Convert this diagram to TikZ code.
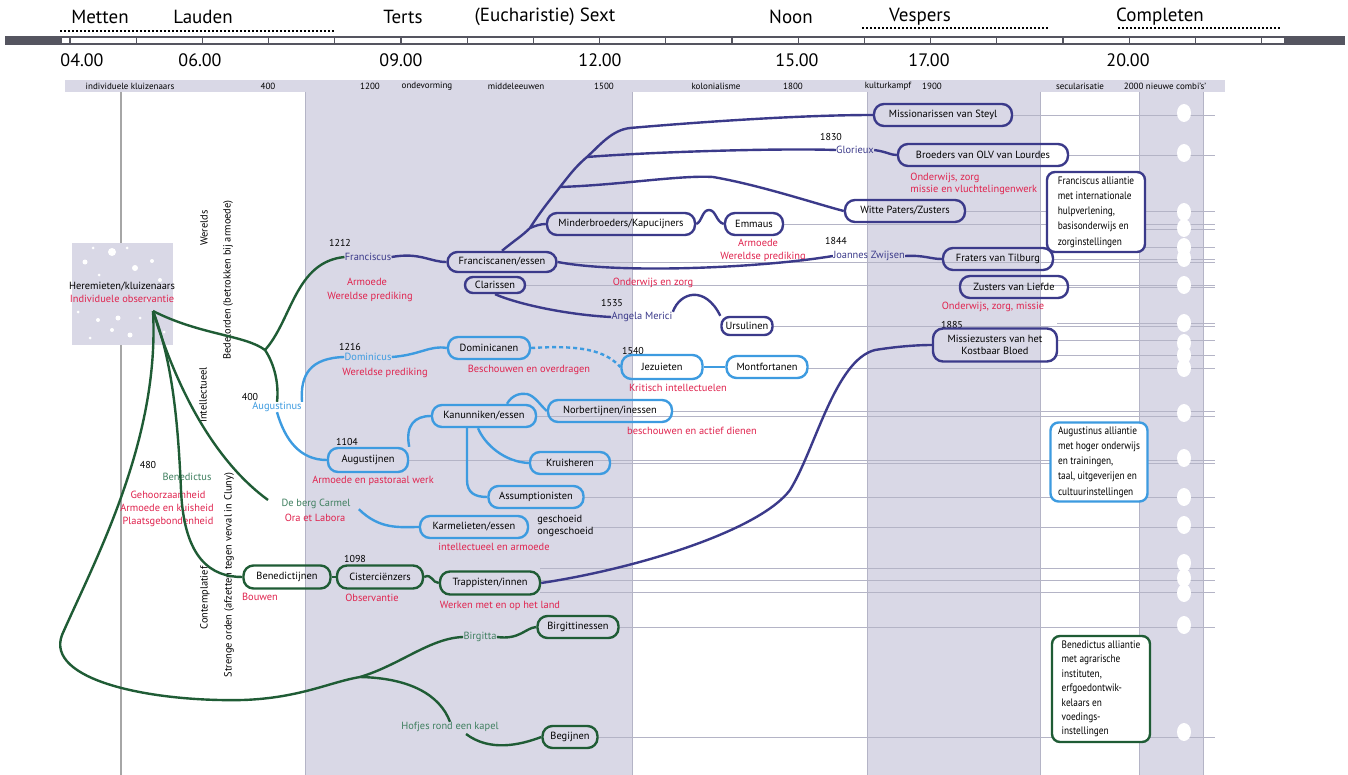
\documentclass[tikz,border=0pt]{standalone}
\usepackage{fontspec}
\setmainfont{PT Sans}
\newfontfamily\narrowf{PT Sans}[FakeStretch=0.86]
\definecolor{purp}{HTML}{3B3A8A}
\definecolor{lblue}{HTML}{3D9BE0}
\definecolor{dgreen}{HTML}{1F5C35}
\definecolor{tgreen}{HTML}{3F7F5F}
\definecolor{redt}{HTML}{E0234E}
\definecolor{lav}{HTML}{D9D8E6}
\definecolor{rowl}{HTML}{B4B4C6}
\definecolor{bar}{HTML}{555560}
\begin{document}
\begin{tikzpicture}[x=0.5pt,y=-0.5pt,
  every node/.style={inner sep=0pt, font=\fontsize{5.2}{6.2}\selectfont},
  box/.style={draw, line width=1.2pt, rounded corners=5pt, minimum height=11pt, align=center},
  pbox/.style={box, draw=purp},
  bbox/.style={box, draw=lblue},
  gbox/.style={box, draw=dgreen},
  allbox/.style={draw, line width=1.2pt, rounded corners=4pt, fill=white, align=left, inner sep=2pt, font=\narrowf\fontsize{5.4}{7.6}\selectfont},
  plink/.style={draw=purp, line width=1.2pt},
  blink/.style={draw=lblue, line width=1.2pt},
  glink/.style={draw=dgreen, line width=1.2pt},
  rlab/.style={text=redt},
  yr/.style={font=\fontsize{5}{6}\selectfont},
  hdr/.style={font=\fontsize{9.5}{11}\selectfont},
  tim/.style={font=\fontsize{9}{11}\selectfont},
  era/.style={font=\fontsize{4.5}{5}\selectfont},
  vlab/.style={rotate=90, font=\fontsize{5.2}{6}\selectfont},
  rowline/.style={draw=rowl, line width=0.3pt},
  hole/.style={fill=white, draw=none}
]
\useasboundingbox (0,0) rectangle (1348,775);
\fill[white] (0,0) rectangle (1348,775);
% ---------- header ----------
\node[hdr] (h1) at (100,17) {Metten};
\node[hdr] (h2) at (203,17) {Lauden};
\node[hdr] (h3) at (403,17) {Terts};
\node[hdr] (h4) at (545,17) {(Eucharistie) Sext};
\node[hdr] (h5) at (791,17) {Noon};
\node[hdr] (h6) at (920,17) {Vespers};
\node[hdr] (h7) at (1160,17) {Completen};
\draw[densely dotted, line width=1pt] (60,31) -- (335,31);
\draw[densely dotted, line width=1pt] (862,28) -- (1050,28);
\draw[densely dotted, line width=1pt] (1118,28) -- (1280,28);
\fill[bar] (5,36) rectangle (62,45);
\fill[bar] (1284,36) rectangle (1345,45);
\draw[bar, line width=1pt] (62,37) -- (1284,37);
\draw[bar, line width=0.6pt] (62,44) -- (1284,44);
\foreach \k in {0,...,18} \draw[bar, line width=0.6pt] ({70+66.2*\k},37) -- ({70+66.2*\k},44);
\node[tim] (t1) at (82,60) {04.00};
\node[tim] (t2) at (200,60) {06.00};
\node[tim] (t3) at (401,60) {09.00};
\node[tim] (t4) at (600,60) {12.00};
\node[tim] (t5) at (797,60) {15.00};
\node[tim] (t6) at (929,60) {17.00};
\node[tim] (t7) at (1128,60) {20.00};
% era band
\fill[lav] (65,80) rectangle (1225,92);
\node[era] (e1) at (130,86) {individuele kluizenaars};
\node[era] (e2) at (268,86) {400};
\node[era] (e3) at (370,86) {1200};
\node[era] (e4) at (427,86) {ondevorming};
\node[era] (e5) at (516,86) {middeleeuwen};
\node[era] (e6) at (604,86) {1500};
\node[era] (e7) at (716,86) {kolonialisme};
\node[era] (e8) at (793,86) {1800};
\node[era] (e9) at (888,86) {kulturkampf};
\node[era] (e10) at (932,86) {1900};
\node[era] (e11) at (1080,86) {secularisatie};
\node[era] (e12) at (1165,86) {2000 nieuwe combi's'};
% ---------- background bands ----------
\fill[lav] (305,92) rectangle (632,775);
\fill[lav] (867,92) rectangle (1040,775);
\fill[lav] (1139,92) rectangle (1203,775);
\foreach \xx in {305,632,867,1040,1139,1203} \draw[rowl, line width=0.4pt] (\xx,92) -- (\xx,775);
\draw[gray!70, line width=0.8pt] (121,92) -- (121,775);
% row lines
\foreach \yy/\xs in {115/1012,155/1068,211/965,224/783,229/1145,247/1145,259/1053,262/557,285/525,287/1068,323/1057,326/773,340/1057,355/1057,368/808,411/672,416/537,460/408,463/610,497/583,527/592,568/540,580/540,592/540,627/618,737/598}
  \draw[rowline] (\xs,\yy) -- (1215,\yy);
% holes
\foreach \yy in {113,153,212,228,247,258,285,323,343,355,368,413,458,497,525,563,578,593,625,732}
  \fill[hole] (1184,\yy) ellipse [x radius=3.5pt, y radius=4.5pt];
% ---------- hermits ----------
\fill[lav] (72,243) rectangle (173,345);
\foreach \px/\py/\r in {112/252/4,85/262/2.5,135/268/3,152/261/2,99/275/1.5,160/280/2,78/312/1.5,98/320/2,118/318/2.5,140/318/1.5,112/330/2,130/335/2.5,90/338/1.5,164/332/1.5,148/300/1.5,127/248/1.5,93/248/1.5}
  \fill[white] (\px,\py) circle [radius=\r*0.5pt];
\node (herm) at (122,287) {Heremieten/kluizenaars};
\node[rlab] (hermr) at (122,299) {Individuele observantie};
\coordinate (hp) at (153,311);
% vertical labels
\node[vlab] (v1) at (204,228) {Werelds};
\node[vlab] (v2) at (228,280) {Bedelorden (betrokken bij armoede)};
\node[vlab] (v3) at (203,395) {Intellectueel};
\node[vlab] (v4) at (205,598) {Contemplatief};
\node[vlab] (v5) at (229,575) {Strenge orden (afzetten tegen verval in Cluny)};
% ---------- founders / labels ----------
\node[yr] (y1212) at (340,243) {1212};
\node[text=purp] (fcus) at (368,257) {Franciscus};
\node[rlab] (r1) at (367,282) {Armoede};
\node[rlab] (r2) at (370,297) {Wereldse prediking};
\node[yr] (y1216) at (350,347) {1216};
\node[text=lblue] (dcus) at (368,357) {Dominicus};
\node[rlab] (r3) at (385,373) {Wereldse prediking};
\node[yr] (y400) at (250,397) {400};
\node[text=lblue] (acus) at (277,407) {Augustinus};
\node[yr] (y1104) at (347,442) {1104};
\node[yr] (y480) at (148,465) {480};
\node[yr] (y1098) at (355,559) {1098};
\node[yr] (y1830) at (831,137) {1830};
\node[text=purp] (glor) at (855,150) {Glorieux};
\node[yr] (y1844) at (836,241) {1844};
\node[text=purp] (joan) at (869,256) {Joannes Zwijsen};
\node[yr] (y1535) at (612,303) {1535};
\node[text=purp] (angela) at (642,317) {Angela Merici};
\node[yr] (y1540) at (633,351) {1540};
\node[yr] (y1885) at (952,325) {1885};
\node[text=tgreen] (bcus) at (187,477) {Benedictus};
\node[text=tgreen] (carmel) at (316,504) {De berg Carmel};
\node[text=tgreen] (birgitta) at (480,637) {Birgitta};
\node[text=tgreen] (hofjes) at (450,727) {Hofjes rond een kapel};
% red labels
\node[rlab] (r4) at (529,370) {Beschouwen en overdragen};
\node[rlab] (r5) at (678,388) {Kritisch intellectuelen};
\node[rlab] (r6) at (692,431) {beschouwen en actief dienen};
\node[rlab] (r7) at (373,481) {Armoede en pastoraal werk};
\node[rlab] (r8) at (315,518) {Ora et Labora};
\node[rlab] (r9) at (494,547) {intellectueel en armoede};
\node[rlab] (r10) at (168,495) {Gehoorzaamheid};
\node[rlab] (r11) at (167,508) {Armoede en kuisheid};
\node[rlab] (r12) at (168,522) {Plaatsgebondenheid};
\node[rlab] (r13) at (260,597) {Bouwen};
\node[rlab] (r14) at (372,598) {Observantie};
\node[rlab] (r15) at (500,606) {Werken met en op het land};
\node[rlab] (r16) at (758,243) {Armoede};
\node[rlab] (r17) at (763,257) {Wereldse prediking};
\node[rlab] (r18) at (653,283) {Onderwijs en zorg};
\node[rlab, anchor=west] (r19) at (910,178) {Onderwijs, zorg};
\node[rlab, anchor=west] (r20) at (910,190) {missie en vluchtelingenwerk};
\node[rlab] (r21) at (993,307) {Onderwijs, zorg, missie};
\node[anchor=west] (gs1) at (537,520) {geschoeid};
\node[anchor=west] (gs2) at (537,532) {ongeschoeid};
% ---------- order boxes ----------
\node[pbox, minimum width=69pt] (miss) at (943,115) {Missionarissen van Steyl};
\node[pbox, minimum width=85pt] (broe) at (983,155) {Broeders van OLV van Lourdes};
\node[pbox, minimum width=60pt] (witte) at (905,211) {Witte Paters/Zusters};
\node[pbox, minimum width=55pt] (frat) at (998,259) {Fraters van Tilburg};
\node[pbox, minimum width=54pt] (zust) at (1014,287) {Zusters van Liefde};
\node[pbox, minimum width=62pt, minimum height=16.5pt] (missz) at (995,345) {Missiezusters van het\\Kostbaar Bloed};
\node[pbox, minimum width=54.5pt, minimum height=10pt] (franc) at (502,262) {Franciscanen/essen};
\node[pbox, minimum width=30pt, minimum height=8pt, rounded corners=4pt] (clar) at (495,285) {Clarissen};
\node[pbox, minimum width=74pt] (minder) at (621,224) {Minderbroeders/Kapucijners};
\node[pbox, minimum width=29pt] (emm) at (754,224) {Emmaus};
\node[pbox, minimum width=25.5pt, minimum height=9pt, rounded corners=4pt] (urs) at (747,326) {Ursulinen};
\node[bbox, minimum width=41pt] (domin) at (489,348) {Dominicanen};
\node[bbox, minimum width=40.5pt, minimum height=12pt] (jez) at (662,367) {Jezuieten};
\node[bbox, minimum width=40.5pt] (mont) at (767,367) {Montfortanen};
\node[bbox, minimum width=52pt] (kan) at (484,416) {Kanunniken/essen};
\node[bbox, minimum width=62pt] (norb) at (610,411) {Norbertijnen/inessen};
\node[bbox, minimum width=40pt, minimum height=12pt] (aug) at (368,460) {Augustijnen};
\node[bbox, minimum width=40pt] (kruis) at (570,463) {Kruisheren};
\node[bbox, minimum width=47.5pt] (assump) at (536,497) {Assumptionisten};
\node[bbox, minimum width=54pt] (karm) at (474,527) {Karmelieten/essen};
\node[gbox, minimum width=43.5pt, minimum height=11.5pt] (bened) at (287,577) {Benedictijnen};
\node[gbox, minimum width=43pt, minimum height=11.5pt] (cist) at (380,577) {Cisterciënzers};
\node[gbox, minimum width=50pt, minimum height=11.5pt] (trap) at (490,583) {Trappisten/innen};
\node[gbox, minimum width=40.5pt] (birg) at (578,627) {Birgittinessen};
\node[gbox, minimum width=27.5pt] (begij) at (570,737) {Begijnen};
% alliance boxes
\node[allbox, draw=purp, minimum width=49pt, minimum height=40pt] (fall) at (1096,212) {Franciscus alliantie\\met internationale\\hulpverlening,\\basisonderwijs en\\zorginstellingen};
\node[allbox, draw=lblue, minimum width=48.5pt, minimum height=39.5pt] (aall) at (1099,462) {Augustinus alliantie\\met hoger onderwijs\\en trainingen,\\taal, uitgeverijen en\\cultuurinstellingen};
\node[allbox, draw=dgreen, minimum width=49pt, minimum height=53pt, font=\narrowf\fontsize{5.4}{7.2}\selectfont] (ball) at (1101,689) {Benedictus alliantie\\met agrarische\\instituten,\\erfgoedontwik-\\kelaars en\\voedings-\\instellingen};
% ---------- green connectors ----------
\coordinate (gb) at (265,350);
\coordinate (gb2) at (360,677);
\coordinate (ce) at (268,500);
\coordinate (hj) at (466,734);
\draw[glink] (hp) .. controls (200,335) and (245,335) .. (gb);
\draw[glink] (gb) .. controls (292,320) and (295,262) .. (fcus.west);
\draw[glink] (gb) .. controls (275,365) and (279,385) .. (acus.north);
\draw[glink] (hp) .. controls (172,360) and (178,420) .. (181,490) .. controls (184,560) and (212,577) .. (bened.west);
\draw[glink] (hp) .. controls (180,400) and (220,465) .. (ce);
\draw[glink] (hp) .. controls (160,440) and (95,560) .. (62,635) .. controls (45,680) and (150,702) .. (243,700) .. controls (300,698) and (330,682) .. (gb2);
\draw[glink] (gb2) .. controls (400,665) and (430,638) .. (birgitta.west);
\draw[glink] (gb2) .. controls (410,678) and (440,695) .. (hofjes.north);
\draw[glink] (birgitta.east) .. controls (520,640) and (525,628) .. (birg.west);
\draw[glink] (hj) .. controls (490,752) and (520,745) .. (begij.west);
\draw[glink] (bened.east) -- (cist.west);
\draw[glink] (cist.east) .. controls (432,573) and (432,583) .. (trap.west);
% ---------- purple connectors ----------
\coordinate (p1) at (530,228);
\coordinate (p2) at (560,187);
\coordinate (p3) at (587,157);
\coordinate (p4) at (630,128);
\draw[plink] (fcus.east) .. controls (420,252) and (430,262) .. (franc.west);
\draw[plink] (franc.north) .. controls (515,240) and (522,236) .. (p1) .. controls (540,212) and (550,200) .. (p2) .. controls (568,177) and (575,167) .. (p3) .. controls (600,145) and (612,130) .. (p4);
\draw[plink] (p4) .. controls (700,122) and (800,115) .. (miss.west);
\draw[plink] (p3) .. controls (650,152) and (780,148) .. (glor.west);
\draw[plink] (p2) .. controls (620,185) and (680,175) .. (713,177) .. controls (760,185) and (820,205) .. (witte.west);
\draw[plink] (p1) .. controls (535,226) and (540,224) .. (minder.west);
\draw[plink] (minder.east) .. controls (702,222) and (702,210) .. (709,210) .. controls (716,210) and (716,222) .. (emm.west);
\draw[plink] (franc.east) .. controls (620,274) and (760,268) .. (joan.west);
\draw[plink] (joan.east) .. controls (925,255) and (930,259) .. (frat.west);
\draw[plink] (glor.east) .. controls (888,152) and (890,155) .. (broe.west);
\draw[plink] (clar.south) .. controls (520,305) and (570,315) .. (angela.west);
\draw[plink] (angela.north east) .. controls (680,292) and (705,285) .. (urs.north west);
\draw[plink] (trap.east) .. controls (640,568) and (760,530) .. (790,490) .. controls (815,450) and (835,360) .. (875,350) .. controls (900,346) and (920,345) .. (missz.west);
% ---------- blue connectors ----------
\draw[blink] (acus.north east) .. controls (300,375) and (310,358) .. (dcus.west);
\draw[blink] (dcus.east) .. controls (420,355) and (430,345) .. (domin.west);
\draw[blink, dash pattern=on 2pt off 1.5pt] (domin.east) .. controls (580,345) and (605,350) .. (jez.west);
\draw[blink] (jez.east) -- (mont.west);
\draw[blink] (acus.south) .. controls (285,440) and (300,460) .. (aug.west);
\draw[blink] (aug.north east) .. controls (405,425) and (415,416) .. (kan.west);
\draw[blink] ([xshift=11.5pt]kan.north) .. controls (512,395) and (520,393) .. (527,394) .. controls (535,396) and (540,405) .. (norb.west);
\draw[blink] ([xshift=-8.5pt]kan.south) -- (467,480) .. controls (467,493) and (475,497) .. (assump.west);
\draw[blink] ([xshift=-3pt]kan.south) .. controls (485,445) and (505,462) .. (kruis.west);
\draw[blink] ([xshift=4pt]carmel.south east) .. controls (380,530) and (400,527) .. (karm.west);
\end{tikzpicture}
\end{document}
